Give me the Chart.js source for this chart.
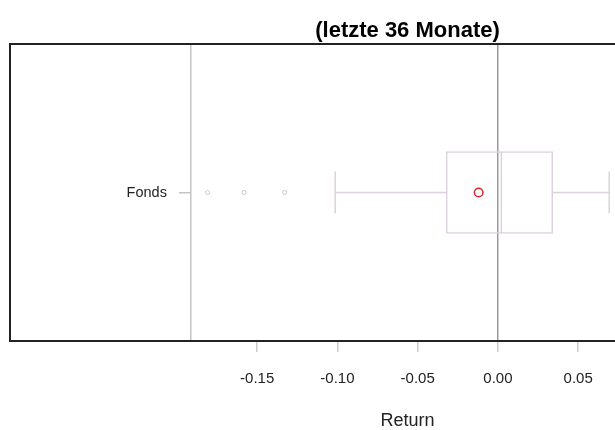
<!DOCTYPE html>
<html>
<head>
<meta charset="utf-8">
<script src="https://cdn.jsdelivr.net/npm/chart.js@4.4.1/dist/chart.umd.min.js"></script>
<style>
  html, body { margin: 0; padding: 0; background: #fff; overflow: hidden; }
  #wrap { width: 815px; height: 430px; }
</style>
</head>
<body>
<div id="wrap"><canvas id="chart" width="815" height="430"></canvas></div>
<script>
/* Boxplot der Monatsrenditen (letzte 36 Monate) */

const CATEGORIES = ['Fonds'];
const Q1 = [-0.0324];
const MEDIAN = [0.0021];
const Q3 = [0.0343];
const WHISKER_LO = [-0.1014];
const WHISKER_HI = [0.0693];
const MEANS = [-0.0120];
const OUTLIERS = [[-0.1809, -0.1581, -0.1329]];
const X_TICKS = [-0.15, -0.10, -0.05, 0.00, 0.05];
const X_MIN = -0.3040;
const X_MAX = 0.1913;
const Y_AXIS_AT = -0.1913;

const FONT = "'Liberation Sans', Arial, sans-serif";
const BOX_COLOR = '#ddd3de';
const OUTLIER_COLOR = '#cfc6d1';
const MEAN_COLOR = '#d22b2b';
const AXIS_GREY = '#c4c4c4';

Chart.defaults.font.family = FONT;

const pts = (vals, i) => vals.map(v => ({ x: v, y: CATEGORIES[i] }));

// Rahmen um die Zeichenfläche + Gruppenbeschriftung links der y-Achse
const framePlugin = {
  id: 'frame',
  afterDatasetsDraw(chart) {
    const { ctx, chartArea: { left, top, right, bottom }, scales: { x, y } } = chart;
    ctx.save();
    ctx.strokeStyle = '#222';
    ctx.lineWidth = 2;
    ctx.strokeRect(left, top, right - left, bottom - top);

    const axisX = x.getPixelForValue(Y_AXIS_AT);
    ctx.fillStyle = '#222';
    ctx.font = `14.5px ${FONT}`;
    ctx.textAlign = 'right';
    ctx.textBaseline = 'middle';
    CATEGORIES.forEach((c, i) => {
      ctx.fillText(c, axisX - 11 - 13, y.getPixelForValue(i));
    });
    ctx.restore();
  },
};

new Chart(document.getElementById('chart'), {
  type: 'bar',
  data: {
    labels: CATEGORIES,
    datasets: [
      {
        type: 'bar',
        label: 'Box',
        data: CATEGORIES.map((c, i) => [Q1[i], Q3[i]]),
        backgroundColor: 'rgba(0,0,0,0)',
        borderColor: BOX_COLOR,
        borderWidth: 1.5,
        borderSkipped: false,
        barPercentage: 0.277,
        categoryPercentage: 1,
        grouped: false,
      },
      {
        type: 'line',
        label: 'Median',
        data: CATEGORIES.map((c, i) => ({ x: MEDIAN[i], y: c })),
        showLine: false,
        pointStyle: 'line',
        pointRotation: 90,
        pointRadius: 41,
        pointBorderColor: BOX_COLOR,
        pointBorderWidth: 1.5,
      },
      {
        type: 'line',
        label: 'Whisker unten',
        data: pts([WHISKER_LO[0], Q1[0]], 0),
        borderColor: BOX_COLOR,
        borderWidth: 1.5,
        pointStyle: 'line',
        pointRotation: 90,
        pointRadius: [21, 0],
        pointBorderColor: BOX_COLOR,
        pointBorderWidth: 1.5,
      },
      {
        type: 'line',
        label: 'Whisker oben',
        data: pts([Q3[0], WHISKER_HI[0]], 0),
        borderColor: BOX_COLOR,
        borderWidth: 1.5,
        pointStyle: 'line',
        pointRotation: 90,
        pointRadius: [0, 21],
        pointBorderColor: BOX_COLOR,
        pointBorderWidth: 1.5,
      },
      {
        type: 'line',
        label: 'Ausreißer',
        data: pts(OUTLIERS[0], 0),
        showLine: false,
        pointStyle: 'circle',
        pointRadius: 2,
        pointBackgroundColor: 'rgba(0,0,0,0)',
        pointBorderColor: OUTLIER_COLOR,
        pointBorderWidth: 1,
      },
      {
        type: 'line',
        label: 'Mittelwert',
        data: CATEGORIES.map((c, i) => ({ x: MEANS[i], y: c })),
        showLine: false,
        pointStyle: 'circle',
        pointRadius: 4.3,
        pointBackgroundColor: 'rgba(0,0,0,0)',
        pointBorderColor: MEAN_COLOR,
        pointBorderWidth: 1.5,
      },
    ],
  },
  options: {
    indexAxis: 'y',
    responsive: false,
    animation: false,
    events: [],
    layout: { autoPadding: false, padding: { left: 10, right: 10, top: 0, bottom: 0 } },
    plugins: {
      legend: { display: false },
      tooltip: { enabled: false },
      title: {
        display: true,
        text: '(letzte 36 Monate)',
        fullSize: false,
        color: '#000',
        font: { size: 22, weight: 'bold', lineHeight: 1 },
        padding: { top: 20, bottom: 2 },
      },
    },
    scales: {
      x: {
        type: 'linear',
        min: X_MIN,
        max: X_MAX,
        offset: false,
        afterBuildTicks(scale) { scale.ticks = X_TICKS.map(v => ({ value: v })); },
        afterFit(scale) { scale.height = 89; },
        border: { display: false },
        grid: {
          offset: false,
          color: ctx => (ctx.tick && ctx.tick.value === 0 ? '#9a9a9a' : 'rgba(0,0,0,0)'),
          lineWidth: 1.5,
          tickColor: '#cccccc',
          tickWidth: 1.5,
          tickLength: 11,
        },
        ticks: {
          padding: 18,
          color: '#222',
          font: { size: 15 },
          maxRotation: 0,
          autoSkip: false,
          callback: v => Number(v).toFixed(2),
        },
        title: {
          display: true,
          text: 'Return',
          color: '#222',
          font: { size: 18, lineHeight: 1 },
          padding: { top: 0, bottom: 0 },
        },
      },
      y: {
        type: 'category',
        labels: CATEGORIES,
        offset: true,
        position: { x: Y_AXIS_AT },
        afterFit(scale) { scale.width = 0; },
        border: { display: true, color: AXIS_GREY, width: 1.5 },
        grid: {
          drawOnChartArea: false,
          offset: false,
          tickLength: 11,
          color: AXIS_GREY,
          lineWidth: 1.5,
        },
        ticks: { display: false },
      },
    },
  },
  plugins: [framePlugin],
});
</script>
</body>
</html>
